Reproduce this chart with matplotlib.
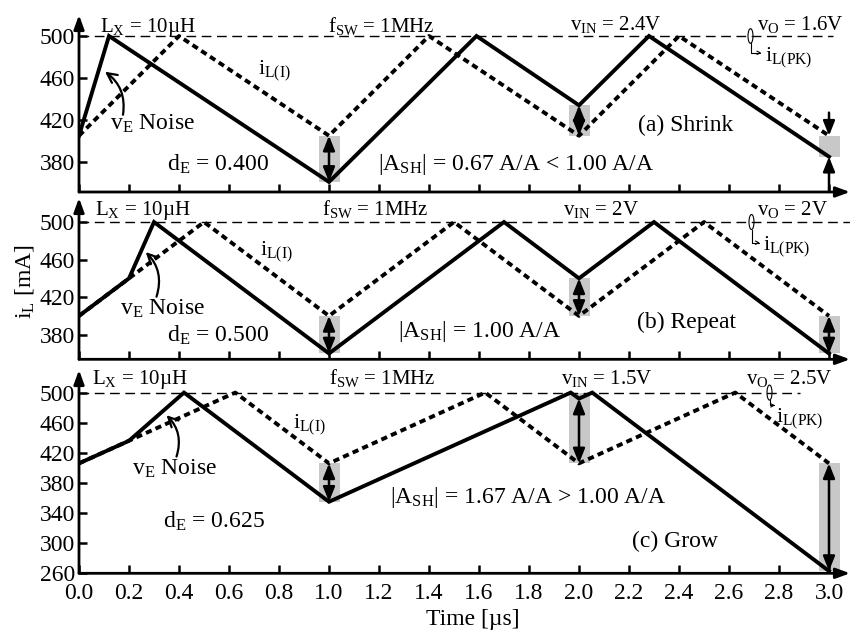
import numpy as np
import matplotlib.pyplot as plt
from matplotlib.patches import Rectangle, Ellipse

plt.rcParams['font.family'] = ['Liberation Serif', 'DejaVu Serif']
plt.rcParams['mathtext.fontset'] = 'custom'
plt.rcParams['mathtext.rm'] = 'Liberation Serif'
plt.rcParams['mathtext.it'] = 'Liberation Serif:italic'
plt.rcParams['mathtext.bf'] = 'Liberation Serif:bold'

# ---------------------------------------------------------
# DATA
# ---------------------------------------------------------
# steady-state inductor current i_L(I) (dashed)
T_SS_A = [0, 0.4, 1.0, 1.4, 2.0, 2.4, 3.0]
IL_SS_A = [405, 500, 405, 500, 405, 500, 405]
T_SS_B = [0, 0.5, 1.0, 1.5, 2.0, 2.5, 3.0]
IL_SS_B = [400, 500, 400, 500, 400, 500, 400]
T_SS_C = [0, 0.625, 1.0, 1.625, 2.0, 2.625, 3.0]
IL_SS_C = [406, 500, 406, 500, 406, 500, 406]

# perturbed inductor current (solid)
T_A = [0, 0.12, 1.0, 1.59, 2.0, 2.28, 3.0]
IL_A = [405, 500, 361, 500, 434, 500, 385]
T_B = [0, 0.2, 0.3, 1.0, 1.7, 2.0, 2.3, 3.0]
IL_B = [400, 440, 500, 360, 500, 440, 500, 360]
T_C = [0, 0.2, 0.42, 1.0, 1.967, 2.0, 2.053, 3.0]
IL_C = [406, 436, 500, 355, 500, 492, 500, 263]

# error at each sample instant: grey band (lo, hi) and arrow (lo, hi)
STEP_T = [1.0, 2.0, 3.0]
BAND_A = [(361, 405), (405, 434), (385, 405)]
BAND_B = [(360, 400), (400, 440), (360, 400)]
BAND_C = [(355, 406), (406, 500), (263, 406)]
ARROW_A = [(361, 405), (405, 434), None]
ARROW_B = [(360, 400), (400, 440), (360, 400)]
ARROW_C = [(355, 406), (406, 492), (263, 406)]

VIN = ['2.4V', '2V', '1.5V']
VO = ['1.6V', '2V', '2.5V']
DE = ['0.400', '0.500', '0.625']
ASH = ['0.67 A/A < 1.00 A/A', '1.00 A/A', '1.67 A/A > 1.00 A/A']
NAMES = ['(a) Shrink', '(b) Repeat', '(c) Grow']
YTICKS_AB = [380, 420, 460, 500]
YTICKS_C = [260, 300, 340, 380, 420, 460, 500]

# ---------------------------------------------------------
# LAYOUT
# ---------------------------------------------------------
W, H = 851, 634
LEFT, RIGHT = 79, 850
PANELS = [  # top px, bottom px, ylim
    (15, 192, (351.4, 520)),
    (198, 359.3, (353.8, 525.6)),
    (370, 573.3, (260, 530)),
]
XMAX = 3.084

# text anchor points per panel (x, baseline y) in data units
POS = [
    dict(lx=(0.084, 504), fsw=(0.996, 504), vin=(1.964, 506), vo=(2.712, 506),
         ipk=(2.744, 475.5), ii=(0.717, 463), noise=(0.124, 411),
         de=(0.351, 372), ash=(1.197, 372), name=(2.236, 409),
         loop=(2.686, 14, 484, 2.73), tail=(0.176, 425), head=(0.104, 466),
         ref_end=3.016),
    dict(lx=(0.064, 507.5), fsw=(0.971, 507.5), vin=(1.936, 507.5), vo=(2.712, 507.5),
         ipk=(2.736, 470), ii=(0.724, 465), noise=(0.164, 401),
         de=(0.351, 372.5), ash=(1.277, 378), name=(2.232, 387),
         loop=(2.69, 16, 478, 2.724), tail=(0.31, 420.5), head=(0.267, 468),
         ref_end=3.084),
    dict(lx=(0.051, 512), fsw=(1.0, 512), vin=(1.928, 512), vo=(2.67, 512),
         ipk=(2.79, 461), ii=(0.857, 452.6), noise=(0.211, 390.5),
         de=(0.337, 320), ash=(1.244, 353), name=(2.212, 295),
         loop=(2.762, 20, 483, 2.785), tail=(0.39, 415), head=(0.35, 470),
         ref_end=2.884),
]

fig = plt.figure(figsize=(W / 100, H / 100), dpi=100)

series = [
    (T_SS_A, IL_SS_A, T_A, IL_A, BAND_A, ARROW_A, YTICKS_AB),
    (T_SS_B, IL_SS_B, T_B, IL_B, BAND_B, ARROW_B, YTICKS_AB),
    (T_SS_C, IL_SS_C, T_C, IL_C, BAND_C, ARROW_C, YTICKS_C),
]

for i, (tss, iss, t, il, bands, arrows, yt) in enumerate(series):
    top, bot, ylim = PANELS[i]
    ax = fig.add_axes([LEFT / W, 1 - bot / H, (RIGHT - LEFT) / W, (bot - top) / H])
    ax.set_xlim(0, XMAX)
    ax.set_ylim(*ylim)
    for s in ax.spines.values():
        s.set_visible(False)
    p = POS[i]

    # axis lines with arrow heads
    ax_arrow = dict(arrowstyle='-|>,head_length=0.6,head_width=0.22', lw=2,
                    color='k', shrinkA=0, shrinkB=0, mutation_scale=14)
    ax.annotate('', xy=(0, 1), xytext=(0, 0), xycoords='axes fraction',
                textcoords='axes fraction', arrowprops=ax_arrow, annotation_clip=False)
    ax.annotate('', xy=(1, 0), xytext=(0, 0), xycoords='axes fraction',
                textcoords='axes fraction', arrowprops=ax_arrow, annotation_clip=False)

    # peak current reference
    ax.plot([0, p['ref_end']], [500, 500], color='k', lw=1.0, ls=(0, (7, 4)), zorder=2)

    # grey bands + arrows
    for st, (lo, hi) in zip(STEP_T, bands):
        ax.add_patch(Rectangle((st - 0.042, lo), 0.084, hi - lo, color='#c8c8c8',
                               lw=0, zorder=1))
    for st, ar in zip(STEP_T, arrows):
        if ar is None:
            continue
        ax.annotate('', xy=(st, ar[1]), xytext=(st, ar[0]),
                    arrowprops=dict(arrowstyle='<|-|>,head_length=0.55,head_width=0.22',
                                    lw=1.8, color='k', shrinkA=0, shrinkB=0,
                                    mutation_scale=16), zorder=5)

    ax.plot(tss, iss, color='k', lw=2.8, ls=(0, (1.6, 1.1)), zorder=3)
    ax.plot(t, il, color='k', lw=2.8, solid_joinstyle='miter', zorder=4)

    if i == 0:
        one = dict(arrowstyle='-|>,head_length=0.55,head_width=0.22', lw=1.8,
                   color='k', shrinkA=0, shrinkB=0, mutation_scale=16)
        ax.annotate('', xy=(3.0, bands[2][1]), xytext=(3.0, 427), arrowprops=one, zorder=5)
        ax.annotate('', xy=(3.0, bands[2][0]), xytext=(3.0, ylim[0]), arrowprops=one, zorder=5)

    # peak symbol (loop) and hooked arrow
    lx0, lh, hy, hx = p['loop']
    ax.add_patch(Ellipse((lx0, 500), 0.02, lh, fill=False, lw=0.8, zorder=6))
    ax.annotate('', xy=(hx, hy), xytext=(lx0, 500 - lh / 2),
                arrowprops=dict(arrowstyle='->', connectionstyle='angle,angleA=-90,angleB=0,rad=0',
                                lw=0.8, color='k', shrinkA=0, shrinkB=0, mutation_scale=6))

    # noise arrow
    ax.annotate('', xy=p['head'], xytext=p['tail'],
                arrowprops=dict(arrowstyle='->,head_length=0.5,head_width=0.25',
                                connectionstyle='arc3,rad=0.3', lw=1.6, color='k',
                                shrinkA=0, shrinkB=0, mutation_scale=14), zorder=6)

    kw = dict(ha='left', va='baseline', zorder=7)
    ax.text(*p['lx'], r'L$_\mathrm{X}$ = 10µH', fontsize=15, **kw)
    ax.text(*p['fsw'], r'f$_\mathrm{SW}$ = 1MHz', fontsize=15, **kw)
    ax.text(*p['vin'], r'v$_\mathrm{IN}$ = ' + VIN[i], fontsize=15, **kw)
    ax.text(*p['vo'], r'v$_\mathrm{O}$ = ' + VO[i], fontsize=15, **kw)
    ax.text(*p['ipk'], r'i$_\mathrm{L(PK)}$', fontsize=16, **kw)
    ax.text(*p['ii'], r'i$_\mathrm{L(I)}$', fontsize=16, **kw)
    ax.text(*p['noise'], r'v$_\mathrm{E}$ Noise', fontsize=17, **kw)
    ax.text(*p['de'], r'd$_\mathrm{E}$ = ' + DE[i], fontsize=17, **kw)
    ax.text(*p['ash'], r'|A$_\mathrm{SH}$| = ' + ASH[i], fontsize=17, **kw)
    ax.text(*p['name'], NAMES[i], fontsize=17, **kw)

    ax.set_xticks(np.arange(0, 3.01, 0.2))
    ax.set_yticks(yt)
    ax.tick_params(direction='in', length=6, width=1.8, labelsize=17)
    ax.tick_params(axis='y', pad=3)
    ax.tick_params(axis='x', pad=7)
    if i < 2:
        ax.tick_params(labelbottom=False)
    else:
        ax.set_xticklabels(['%.1f' % v for v in np.arange(0, 3.01, 0.2)])

fig.text(25 / W, 1 - 282 / H, r'i$_\mathrm{L}$ [mA]', rotation=90, ha='center',
         va='center', fontsize=17)
fig.text(473 / W, 1 - 619 / H, 'Time [µs]', ha='center', va='center', fontsize=17)

fig.savefig('out.png', dpi=100)
